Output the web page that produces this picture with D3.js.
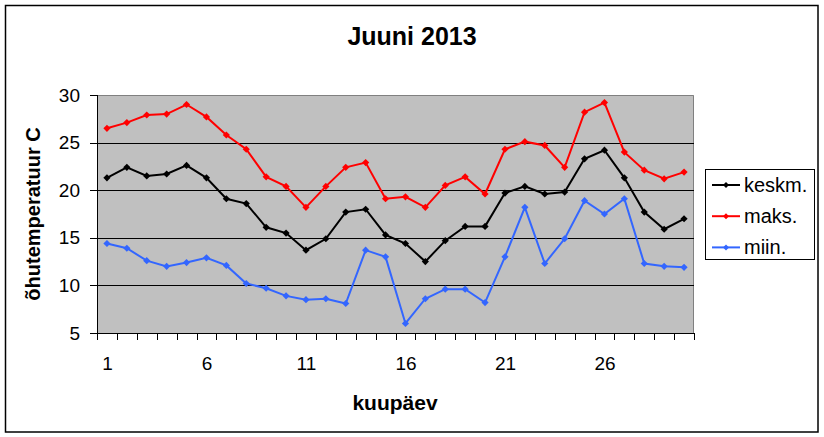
<!DOCTYPE html>
<html>
<head>
<meta charset="utf-8">
<script src="https://cdn.jsdelivr.net/npm/d3@7"></script>
<style>
  body { margin: 0; background: #fff; }
  svg { display: block; font-family: Arial, 'Liberation Sans', sans-serif; }
  .axis path, .axis line { stroke: #000; shape-rendering: crispEdges; }
  .axis text { fill: #000; }
</style>
</head>
<body>
<div id="root"></div>
<script>
// data
const days = d3.range(1, 31);
const dayLabels = [1, 6, 11, 16, 21, 26];
const yTicks = [5, 10, 15, 20, 25, 30];
const keskm = [21.3, 22.4, 21.5, 21.7, 22.6, 21.3, 19.1, 18.6, 16.1, 15.5, 13.7, 14.9, 17.7, 18.0, 15.3,
  14.4, 12.5, 14.7, 16.2, 16.2, 19.7, 20.4, 19.6, 19.8, 23.3, 24.2, 21.3, 17.7, 15.9, 17.0];
const maks = [26.5, 27.1, 27.9, 28.0, 29.0, 27.7, 25.8, 24.3, 21.4, 20.4, 18.2, 20.4, 22.4, 22.9, 19.1,
  19.3, 18.2, 20.5, 21.4, 19.6, 24.3, 25.1, 24.7, 22.4, 28.2, 29.2, 24.0, 22.1, 21.2, 21.9];
const miin = [14.4, 13.9, 12.6, 12.0, 12.4, 12.9, 12.1, 10.2, 9.7, 8.9, 8.5, 8.6, 8.1, 13.7, 13.0,
  6.0, 8.6, 9.6, 9.6, 8.2, 13.0, 18.2, 12.3, 14.9, 18.9, 17.5, 19.1, 12.3, 12.0, 11.9];
const seriesNames = ['keskm.', 'maks.', 'miin.'];
const seriesColors = ['#000000', '#ff0000', '#3366ff'];

const app = (function(d3) {

  const W = 824, H = 437;
  const plot = { left: 97, right: 694, top: 95, bottom: 333 };

  const svg = d3.select('#root')
    .append('svg')
      .attr('width', W)
      .attr('height', H);

  // outer frame
  svg.append('rect')
    .attr('x', 5.5).attr('y', 5.5)
    .attr('width', 812.5).attr('height', 426.5)
    .attr('fill', '#fff')
    .attr('stroke', '#000')
    .attr('stroke-width', 1.5);

  const xScale = d3.scaleLinear()
    .domain([0.5, 30.5])
    .range([plot.left, plot.right]);

  const yScale = d3.scaleLinear()
    .domain([5, 30])
    .range([plot.bottom, plot.top]);

  // plot background
  svg.append('rect')
    .attr('x', plot.left).attr('y', plot.top)
    .attr('width', plot.right - plot.left)
    .attr('height', plot.bottom - plot.top)
    .attr('fill', '#c0c0c0');

  // grey top/right edges
  svg.append('path')
    .attr('d', `M${plot.left},${plot.top + 0.5}H${plot.right - 0.5}V${plot.bottom}`)
    .attr('fill', 'none')
    .attr('stroke', '#808080')
    .attr('stroke-width', 1);

  // gridlines
  svg.append('g')
    .selectAll('line')
    .data(yTicks.filter(t => t > 5 && t < 30))
    .enter().append('line')
      .attr('x1', plot.left).attr('x2', plot.right)
      .attr('y1', d => Math.round(yScale(d)) + 0.5)
      .attr('y2', d => Math.round(yScale(d)) + 0.5)
      .attr('stroke', '#000')
      .attr('stroke-width', 1);

  // y axis
  const yAxis = d3.axisLeft(yScale)
    .tickValues(yTicks)
    .tickSize(7)
    .tickPadding(10);

  svg.append('g')
    .attr('class', 'axis')
    .attr('transform', `translate(${plot.left}, 0)`)
    .call(yAxis)
    .call(g => g.select('.domain').attr('d', `M0.5,${plot.top}V${plot.bottom}`))
    .call(g => g.selectAll('text').attr('font-size', 19).attr('font-family', null));

  // x axis: ticks at day boundaries
  const xTickAxis = d3.axisBottom(xScale)
    .tickValues(d3.range(0.5, 31, 1))
    .tickSize(7)
    .tickFormat('');

  svg.append('g')
    .attr('class', 'axis')
    .attr('transform', `translate(0, ${plot.bottom})`)
    .call(xTickAxis)
    .call(g => g.select('.domain').attr('d', `M${plot.left},0.5H${plot.right}`));

  // x labels every 5th day
  const xLabelAxis = d3.axisBottom(xScale)
    .tickValues(dayLabels)
    .tickSize(0)
    .tickPadding(24);

  svg.append('g')
    .attr('class', 'axis')
    .attr('transform', `translate(0, ${plot.bottom})`)
    .call(xLabelAxis)
    .call(g => g.select('.domain').remove())
    .call(g => g.selectAll('text').attr('font-size', 19).attr('font-family', null));

  // series lines
  const allSeries = [keskm, maks, miin];
  const line = d3.line()
    .x((d, i) => xScale(days[i]))
    .y(d => yScale(d));

  const diamond = 'M0,-3.6L3.6,0L0,3.6L-3.6,0Z';

  // draw order: min, max, mean on top
  [2, 1, 0].forEach(k => {
    const g = svg.append('g');
    g.append('path')
      .datum(allSeries[k])
      .attr('d', line)
      .attr('fill', 'none')
      .attr('stroke', seriesColors[k])
      .attr('stroke-width', 2);
    g.selectAll('path.pt')
      .data(allSeries[k])
      .enter().append('path')
        .attr('class', 'pt')
        .attr('d', diamond)
        .attr('transform', (d, i) => `translate(${xScale(days[i])}, ${yScale(d)})`)
        .attr('fill', seriesColors[k]);
  });

  // titles
  svg.append('text')
    .attr('x', 412).attr('y', 45)
    .attr('text-anchor', 'middle')
    .attr('font-size', 25)
    .attr('font-weight', 'bold')
    .text('Juuni 2013');

  svg.append('text')
    .attr('x', 395).attr('y', 410)
    .attr('text-anchor', 'middle')
    .attr('font-size', 21)
    .attr('font-weight', 'bold')
    .text('kuupäev');

  svg.append('text')
    .attr('transform', 'translate(40, 214) rotate(-90)')
    .attr('text-anchor', 'middle')
    .attr('font-size', 20)
    .attr('font-weight', 'bold')
    .text('õhutemperatuur C');

  // legend
  const legend = svg.append('g');
  legend.append('rect')
    .attr('x', 705.5).attr('y', 169.5)
    .attr('width', 109).attr('height', 90)
    .attr('fill', '#fff')
    .attr('stroke', '#000')
    .attr('stroke-width', 1);

  const rows = legend.selectAll('g.row')
    .data(seriesNames)
    .enter().append('g')
      .attr('class', 'row')
      .attr('transform', (d, i) => `translate(0, ${185 + i * 31.2})`);

  rows.append('line')
    .attr('x1', 712).attr('x2', 740)
    .attr('stroke', (d, i) => seriesColors[i])
    .attr('stroke-width', 2);
  rows.append('path')
    .attr('d', 'M0,-3L3,0L0,3L-3,0Z')
    .attr('transform', 'translate(726, 0)')
    .attr('fill', (d, i) => seriesColors[i]);
  rows.append('text')
    .attr('x', 744).attr('y', 7)
    .attr('font-size', 20)
    .text(d => d);

})(d3);
</script>
</body>
</html>
